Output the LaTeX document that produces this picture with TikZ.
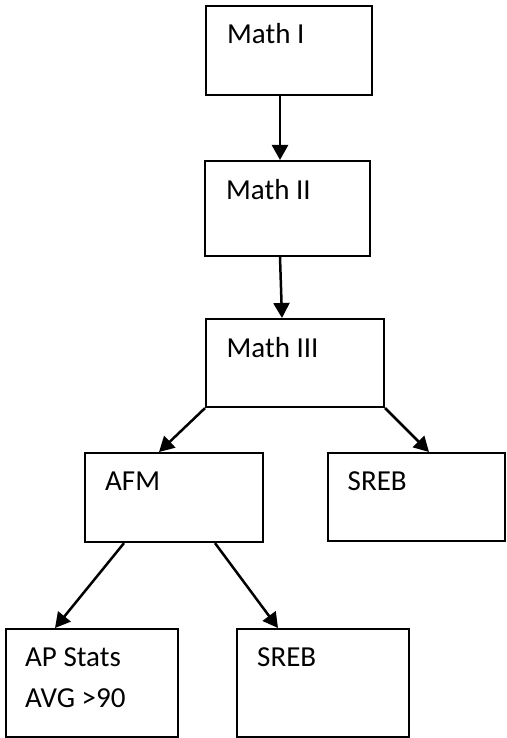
\documentclass[tikz,border=0pt]{standalone}
\usepackage{fontspec}
\setmainfont{Carlito}
\usetikzlibrary{arrows.meta}
\begin{document}
\begin{tikzpicture}[x=1pt,y=-1pt,
  box/.style={draw, line width=2.1pt, inner sep=0pt, anchor=north west},
  lbl/.style={anchor=base west, inner sep=0pt, font=\fontsize{29}{35}\selectfont},
  arr/.style={line width=2.5pt, -{Triangle[width=16pt,length=15pt]}}]
\useasboundingbox (0,0) rectangle (506,738);
% boxes
\node[box, minimum width=166pt, minimum height=89pt] (m1) at (205,5) {};
\node[box, minimum width=165pt, minimum height=95pt] (m2) at (204,160) {};
\node[box, minimum width=178pt, minimum height=88pt] (m3) at (205,318) {};
\node[box, minimum width=178pt, minimum height=89pt] (afm) at (84,452) {};
\node[box, minimum width=177pt, minimum height=88pt] (sr1) at (327,452) {};
\node[box, minimum width=172pt, minimum height=108pt] (ap) at (5,628) {};
\node[box, minimum width=172pt, minimum height=108pt] (sr2) at (236,628) {};
% labels
\node[lbl] (t1) at ([xshift=22pt,yshift=-38.5pt]m1.north west) {Math I};
\node[lbl] (t2) at ([xshift=22pt,yshift=-39pt]m2.north west) {Math II};
\node[lbl] (t3) at ([xshift=21.5pt,yshift=-39pt]m3.north west) {Math III};
\node[lbl] (t4) at ([xshift=21pt,yshift=-38.5pt]afm.north west) {AFM};
\node[lbl] (t5) at ([xshift=20.5pt,yshift=-38.5pt]sr1.north west) {SREB};
\node[lbl] (t6) at ([xshift=20pt,yshift=-38.5pt]ap.north west) {AP Stats};
\node[lbl] (t7) at ([xshift=20pt,yshift=-79pt]ap.north west) {AVG >90};
\node[lbl] (t8) at ([xshift=21pt,yshift=-38.5pt]sr2.north west) {SREB};
% arrows
\draw[arr] ([xshift=75pt]m1.south west) -- ([xshift=76pt]m2.north west);
\draw[arr] ([xshift=76pt]m2.south west) -- ([xshift=77pt]m3.north west);
\draw[arr] (m3.south west) -- ([xshift=75pt]afm.north west);
\draw[arr] (m3.south east) -- ([xshift=102pt]sr1.north west);
\draw[arr] ([xshift=40pt]afm.south west) -- ([xshift=50pt]ap.north west);
\draw[arr] ([xshift=131pt]afm.south west) -- ([xshift=42pt]sr2.north west);
\end{tikzpicture}
\end{document}
